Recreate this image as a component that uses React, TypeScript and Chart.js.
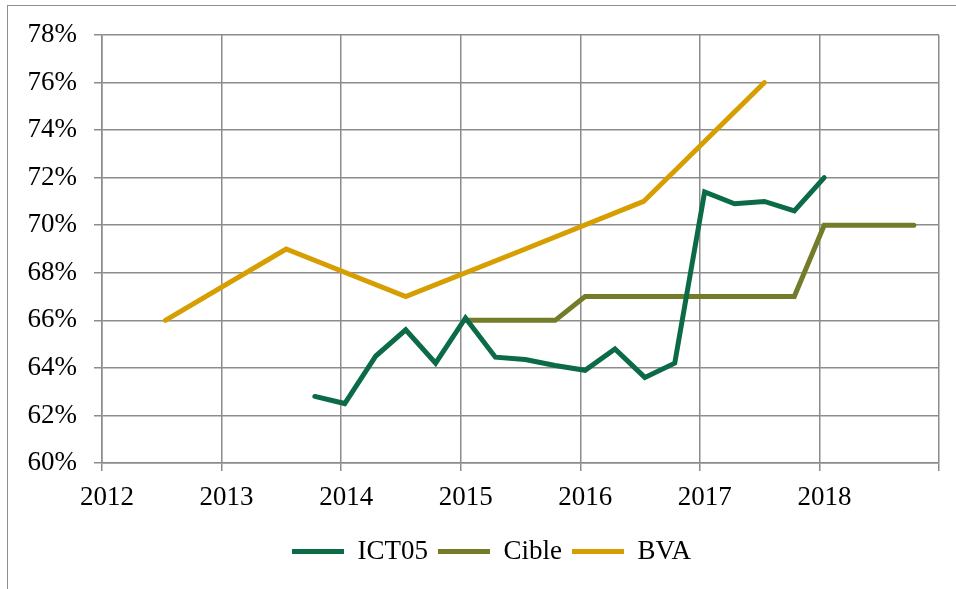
import React, { useEffect, useRef } from "react";
import { Chart, registerables } from "chart.js";

Chart.register(...registerables);

// ICT05 (quarterly measurements)
const ictX = [2013.78, 2014.03, 2014.29, 2014.54, 2014.79, 2015.04, 2015.29, 2015.54, 2015.79, 2016.04, 2016.29, 2016.54, 2016.79, 2017.04, 2017.29, 2017.54, 2017.79, 2018.04];
const ictY = [62.8, 62.5, 64.5, 65.6, 64.2, 66.1, 64.45, 64.35, 64.1, 63.9, 64.8, 63.6, 64.2, 71.4, 70.9, 71.0, 70.6, 72.0];

// Cible (target)
const cibleX = [2015.04, 2015.29, 2015.54, 2015.79, 2016.04, 2016.29, 2016.54, 2016.79, 2017.04, 2017.29, 2017.54, 2017.79, 2018.04, 2018.29, 2018.54, 2018.79];
const cibleY = [66, 66, 66, 66, 67, 67, 67, 67, 67, 67, 67, 67, 70, 70, 70, 70];

// BVA
const bvaX = [2012.53, 2013.54, 2014.54, 2015.54, 2016.53, 2017.54];
const bvaY = [66, 69, 67, 69, 71, 76];

const xTicks = [2012, 2013, 2014, 2015, 2016, 2017, 2018];
const seriesNames = ["ICT05", "Cible", "BVA"];

const toPoints = (xs: number[], ys: number[]) => xs.map((x, i) => ({ x, y: ys[i] }));

const FONT = "'Liberation Serif', serif";
const GRID = "#8c8c8c";

// shifts the legend box sideways after layout (legend is centred a bit right of the canvas centre)
const legendShift = {
  id: "legendShift",
  afterLayout(chart: any) {
    const lg = chart.legend;
    if (lg) {
      lg.left += 22;
      lg.right += 22;
    }
  },
};

export default function App() {
  const ref = useRef<HTMLCanvasElement | null>(null);

  useEffect(() => {
    if (!ref.current) return;
    const mk = (label: string, data: any, color: string) => ({
      label,
      data,
      borderColor: color,
      backgroundColor: color,
      borderWidth: 5,
      borderCapStyle: "round" as const,
      borderJoinStyle: "miter" as const,
      pointRadius: 0,
      tension: 0,
    });
    const chart = new Chart(ref.current, {
      type: "line",
      data: {
        datasets: [
          mk(seriesNames[0], toPoints(ictX, ictY), "#0b6b47"),
          mk(seriesNames[1], toPoints(cibleX, cibleY), "#747c2a"),
          mk(seriesNames[2], toPoints(bvaX, bvaY), "#d69e00"),
        ],
      },
      plugins: [legendShift],
      options: {
        animation: false,
        responsive: true,
        maintainAspectRatio: false,
        layout: { padding: { top: 35, left: 0, right: 17, bottom: 14 } },
        plugins: {
          tooltip: { enabled: false },
          legend: {
            position: "bottom",
            labels: {
              font: { family: FONT, size: 27 },
              color: "#000",
              usePointStyle: true,
              pointStyle: "line",
              pointStyleWidth: 52,
              padding: 10,
            },
          },
        },
        scales: {
          x: {
            type: "linear",
            min: 2012,
            max: 2019,
            afterBuildTicks: (s: any) => {
              s.ticks = [...xTicks, 2019].map((v) => ({ value: v }));
            },
            afterFit: (s: any) => {
              s.height = 65;
            },
            ticks: {
              stepSize: 1,
              font: { family: FONT, size: 27 },
              color: "#000",
              labelOffset: 5,
              padding: 11,
              maxRotation: 0,
              callback: (v: any) => (xTicks.includes(Number(v)) ? String(v) : ""),
            },
            grid: { color: GRID, lineWidth: 1.5, tickLength: 8, drawTicks: true },
            border: { color: GRID, width: 1.5 },
          },
          y: {
            min: 60,
            max: 78,
            afterFit: (s: any) => {
              s.width = 102;
            },
            ticks: {
              stepSize: 2,
              font: { family: FONT, size: 27 },
              color: "#000",
              padding: 17,
              callback: (v: any) => v + "%",
            },
            grid: { color: GRID, lineWidth: 1.5, tickLength: 8 },
            border: { color: GRID, width: 1.5 },
          },
        },
      },
    });
    return () => chart.destroy();
  }, []);

  return (
    <div style={{ position: "absolute", left: 0, top: 0, width: 956, height: 589, overflow: "hidden", background: "#fff" }}>
      <div style={{ position: "absolute", left: 7, top: 5, width: 2000, height: 2000, borderTop: "1.5px solid #8e8e8e", borderLeft: "1.5px solid #8e8e8e" }} />
      <canvas ref={ref} style={{ position: "absolute", left: 0, top: 0, width: 956, height: 589 }} />
    </div>
  );
}
